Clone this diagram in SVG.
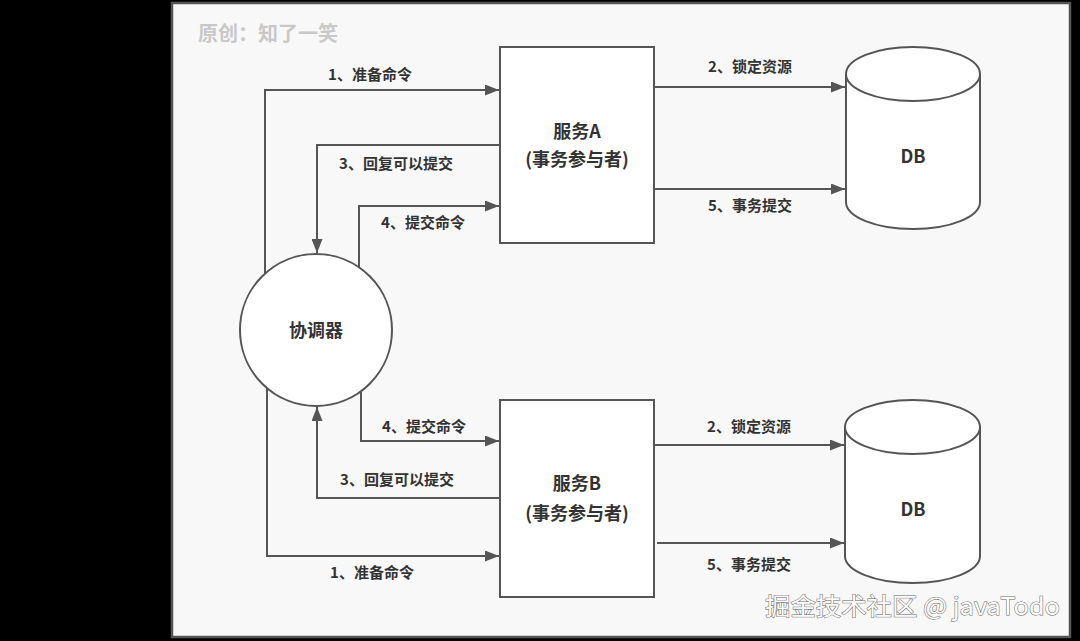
<svg xmlns="http://www.w3.org/2000/svg" width="1080" height="641" viewBox="0 0 1080 641">
<defs>
<marker id="arr" markerWidth="14" markerHeight="11" refX="14" refY="5.5" orient="auto" markerUnits="userSpaceOnUse">
<path d="M0,0 L14,5.5 L0,11 Z" fill="#555"/>
</marker>
<style>
.ln{fill:none;stroke:#555;stroke-width:2;marker-end:url(#arr)}
.shape{fill:#fff;stroke:#555;stroke-width:2}
.lbl{font-family:"Noto Sans CJK SC","Noto Sans",sans-serif;font-size:15px;font-weight:bold;fill:#333;text-anchor:middle}
.nt{font-family:"Noto Sans CJK SC","Noto Sans",sans-serif;font-size:18px;font-weight:bold;fill:#333;text-anchor:middle}
</style>
</defs>
<rect x="0" y="0" width="1080" height="641" fill="#000"/>
<rect x="172" y="3" width="898" height="634" fill="#f8f8f8" stroke="#555" stroke-width="2.5"/>
<text x="198" y="41" font-family="'Noto Sans CJK SC',sans-serif" font-size="20" font-weight="bold" fill="#c8c8c8">原创：知了一笑</text>

<g id="connectors">
<polyline class="ln" points="265,274 265,90 499,90"/>
<polyline class="ln" points="500,145 317,145 317,253"/>
<polyline class="ln" points="359,268 359,206 499,206"/>
<line class="ln" x1="654" y1="87" x2="845" y2="87"/>
<line class="ln" x1="654" y1="189" x2="845" y2="189"/>
<polyline class="ln" points="361,392 361,441 499,441"/>
<polyline class="ln" points="500,498 317,498 317,407"/>
<polyline class="ln" points="267,386 267,556 499,556"/>
<line class="ln" x1="654" y1="445" x2="844" y2="445"/>
<line class="ln" x1="657" y1="543" x2="844" y2="543"/>
<text class="lbl" x="370" y="80">1、准备命令</text>
<text class="lbl" x="396" y="169">3、回复可以提交</text>
<text class="lbl" x="423" y="228">4、提交命令</text>
<text class="lbl" x="750" y="72">2、锁定资源</text>
<text class="lbl" x="750" y="211">5、事务提交</text>
<text class="lbl" x="424" y="432">4、提交命令</text>
<text class="lbl" x="397" y="485">3、回复可以提交</text>
<text class="lbl" x="372" y="578">1、准备命令</text>
<text class="lbl" x="749" y="432">2、锁定资源</text>
<text class="lbl" x="749" y="570">5、事务提交</text>
</g>

<g id="coordinator">
<circle class="shape" cx="316" cy="330" r="76"/>
<text class="nt" x="316" y="337">协调器</text>
</g>

<g id="serviceA">
<rect class="shape" x="500" y="47" width="154" height="196"/>
<text class="nt" x="577" y="138">服务A</text>
<text class="nt" x="577" y="166">(事务参与者)</text>
</g>

<g id="serviceB">
<rect class="shape" x="500" y="400" width="154" height="197"/>
<text class="nt" x="577" y="490">服务B</text>
<text class="nt" x="577" y="520">(事务参与者)</text>
</g>

<g id="dbA">
<path class="shape" d="M846,74 A67,27 0 0 1 980,74 L980,202 A67,27 0 0 1 846,202 Z"/>
<path d="M846,74 A67,27 0 0 0 980,74" fill="none" stroke="#555" stroke-width="2"/>
<text class="nt" x="913" y="163">DB</text>
</g>

<g id="dbB">
<path class="shape" d="M845,427 A67.5,27 0 0 1 980,427 L980,556 A67.5,27 0 0 1 845,556 Z"/>
<path d="M845,427 A67.5,27 0 0 0 980,427" fill="none" stroke="#555" stroke-width="2"/>
<text class="nt" x="913" y="516">DB</text>
</g>

<text x="765" y="615" textLength="295" lengthAdjust="spacingAndGlyphs" font-family="'Noto Sans CJK SC','Noto Sans',sans-serif" font-size="24" fill="#fff" stroke="#666" stroke-width="1" paint-order="stroke">掘金技术社区 @ javaTodo</text>
</svg>
